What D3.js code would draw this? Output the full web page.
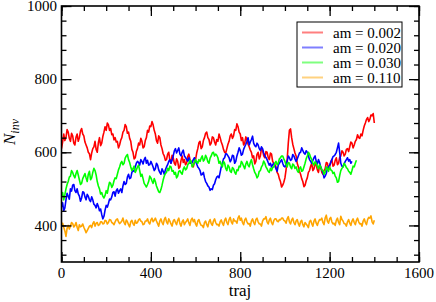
<!DOCTYPE html>
<html><head><meta charset="utf-8">
<script src="https://cdn.jsdelivr.net/npm/d3@7"></script>
<style>body{margin:0;background:#fff}svg{display:block}</style>
</head><body>
<script>
const step = 5;
const labels = ["am = 0.002","am = 0.020","am = 0.030","am = 0.110"];
const colors = ["#ff0000","#0000ff","#00ff00","#ffa500"];
const xTicks = [0,400,800,1200,1600];
const yTicks = [400,600,800,1000];

const red = [610,628,650,632,640,662,655,638,630,652,645,625,620,641,650,630,640,658,665,650,
645,628,620,612,600,596,580,598,610,615,630,608,600,626,640,618,625,643,655,670,
660,680,675,660,665,648,650,634,640,628,630,612,620,633,640,655,660,676,670,652,
655,638,630,608,600,582,585,602,610,625,620,638,630,612,615,632,640,660,655,672,
670,684,675,660,650,632,625,645,640,620,610,596,590,578,580,595,600,578,570,592,
585,570,565,582,575,556,560,578,590,572,580,566,570,588,595,580,575,562,560,574,
580,598,610,626,630,610,615,632,640,652,655,640,635,620,625,642,640,628,620,635,
630,650,640,628,620,608,600,598,610,622,630,645,650,638,645,662,660,678,670,655,
650,632,640,620,625,642,635,622,615,606,600,585,590,568,575,594,600,582,590,610,
605,590,585,602,600,586,580,598,595,575,570,566,560,545,540,528,520,505,510,518,
530,552,580,625,660,664,640,622,610,598,590,570,560,548,540,528,520,506,510,522,
530,545,550,562,570,550,555,570,565,552,545,564,560,545,540,550,555,572,570,555,
560,574,580,562,565,578,585,566,570,586,590,604,600,590,595,608,610,602,615,628,
625,612,620,630,635,648,640,638,650,645,660,672,680,690,695,684,690,702,700,706,
680];
const blue = [450,462,440,448,470,488,480,472,500,494,510,512,495,490,500,486,480,466,475,492,
490,478,470,485,480,470,465,478,470,458,455,448,460,452,440,445,430,418,425,442,
455,450,460,472,470,478,490,492,480,495,500,488,495,500,490,508,520,512,515,532,
540,528,530,545,550,548,560,570,575,572,565,580,575,568,580,586,570,578,565,566,
575,568,560,550,555,570,565,552,545,540,555,548,540,552,560,566,575,580,570,578,
590,604,610,598,605,612,595,590,600,606,590,586,580,576,585,570,570,572,580,585,
575,568,560,556,550,538,540,545,530,520,515,508,505,496,500,498,510,514,525,532,
535,530,545,560,570,582,585,596,595,590,585,574,580,592,590,570,575,590,600,612,
605,592,595,608,615,622,630,640,620,628,635,644,625,618,615,625,620,610,605,615,
610,598,590,586,580,572,565,570,560,566,570,562,555,548,565,570,575,580,570,562,
560,568,575,590,585,578,580,594,590,582,575,582,590,598,600,612,605,598,595,604,
600,590,580,575,570,578,585,590,575,568,580,572,560,552,545,530,535,542,555,560,
565,572,580,588,590,594,600,612,625,600,570,562,560,568,575,580,585,576,580,570,
575];
const green = [480,490,470,484,500,512,520,532,535,550,545,536,530,542,550,538,525,512,515,528,
535,542,530,520,540,548,525,530,545,556,550,538,520,508,500,486,490,480,475,482,
495,488,505,518,515,504,510,522,530,528,540,552,560,570,575,566,570,584,590,594,
580,572,560,550,555,562,545,552,560,565,550,534,540,528,515,510,505,512,520,535,
530,522,515,528,520,508,500,492,490,498,510,524,535,542,545,556,550,562,560,548,
550,540,545,530,535,548,550,544,540,554,560,552,555,566,570,578,575,560,565,572,
580,574,570,580,575,584,590,576,580,592,585,574,570,584,590,598,600,590,595,592,
585,570,575,566,560,575,570,556,550,565,560,548,545,558,555,546,540,552,550,562,
560,575,570,562,555,568,575,565,560,572,580,566,555,545,540,530,535,548,550,560,
565,576,570,560,555,548,545,556,550,558,560,570,575,566,570,582,585,590,590,582,
575,566,560,572,570,560,555,568,565,556,560,550,545,555,560,548,550,560,570,582,
590,600,595,586,580,570,565,574,570,562,555,566,560,552,550,540,545,560,555,548,
560,552,550,542,545,535,530,518,520,536,550,556,560,570,565,558,555,548,545,540,
550,562,560,570,578];
const orange = [400,406,395,385,370,392,400,390,398,408,405,396,400,408,395,386,402,396,398,404,
395,388,380,386,392,398,400,394,405,410,398,406,408,400,402,410,410,404,405,414,
412,404,408,416,415,408,406,402,410,416,418,410,405,408,412,420,408,402,415,410,
402,396,410,414,405,400,414,406,408,415,418,412,410,402,404,412,412,418,408,404,
415,420,410,414,420,412,405,398,412,418,408,402,416,422,410,404,418,412,404,398,
412,416,408,402,414,420,405,398,410,415,402,408,412,418,407,400,415,420,410,416,
404,398,412,416,406,400,400,394,408,412,402,396,410,416,405,400,412,418,408,402,
403,398,410,415,406,400,414,420,408,402,416,422,410,404,418,412,412,406,420,426,
414,420,408,402,415,420,410,404,405,398,412,418,408,402,416,420,410,404,404,398,
412,418,418,424,410,404,415,420,408,402,413,418,418,412,410,416,415,420,420,414,
412,406,418,424,410,404,415,420,408,402,412,416,405,398,410,414,402,396,408,404,
400,394,410,414,405,398,412,418,406,400,410,416,415,420,408,402,420,428,412,406,
418,422,410,404,406,400,414,420,408,402,425,416,412,405,404,398,410,416,406,400,
412,418,408,402,414,420,410,404,405,398,412,418,408,402,416,422,420,426,410,404,
414];
const series = [red, blue, green, orange];

const FONT = "'Liberation Serif', 'Times New Roman', Times, 'DejaVu Serif', serif";
const W = 436, H = 302;
const svg = d3.select("body").append("svg").attr("width", W).attr("height", H)
  .attr("font-family", FONT);
const x = d3.scaleLinear().domain([0,1600]).range([61.5,419]);
const y = d3.scaleLinear().domain([300,1000]).range([262,6]);

svg.append("defs").append("clipPath").attr("id","clip").append("rect")
  .attr("x",61.5).attr("y",6).attr("width",419-61.5).attr("height",256);
const line = d3.line().x((d,i)=>x(i*step)).y(d=>y(d));
const lg = svg.append("g").attr("clip-path","url(#clip)");
series.forEach((s,k)=>{
  lg.append("path").datum(s).attr("d",line).attr("fill","none")
    .attr("stroke",colors[k]).attr("stroke-width",1.6).attr("stroke-linejoin","round");
});

// axes (ticks inward, mirrored)
const xMinor = d3.range(0,1601,100);
const yMinor = d3.range(320,1001,40);
function addAxis(axisGen, scale, transform, major, minor){
  [[minor,5],[major,10]].forEach(([vals,len])=>{
    const g = svg.append("g").attr("transform",transform);
    g.call(axisGen(scale).tickValues(vals).tickSize(len).tickFormat(""));
    g.selectAll(".domain").remove();
    g.selectAll(".tick line").attr("stroke","#000").attr("stroke-width",1.3);
  });
}
addAxis(d3.axisTop, x, "translate(0,262)", xTicks, xMinor);
addAxis(d3.axisBottom, x, "translate(0,6)", xTicks, xMinor);
addAxis(d3.axisRight, y, "translate(61.5,0)", yTicks, yMinor);
addAxis(d3.axisLeft, y, "translate(419,0)", yTicks, yMinor);

svg.append("rect").attr("x",61.5).attr("y",6).attr("width",419-61.5).attr("height",256)
  .attr("fill","none").attr("stroke","#000").attr("stroke-width",1.6);

// tick labels
svg.append("g").selectAll("text").data(xTicks).join("text")
  .attr("x",d=>x(d)).attr("y",278).attr("text-anchor","middle")
  .attr("font-size",15).text(d=>d);
svg.append("g").selectAll("text").data(yTicks).join("text")
  .attr("x",57).attr("y",d=>y(d)).attr("dy","0.34em").attr("text-anchor","end")
  .attr("font-size",15).text(d=>d);

// axis titles
svg.append("text").attr("x",240).attr("y",296).attr("text-anchor","middle")
  .attr("font-size",17).text("traj");
const yt = svg.append("text").attr("transform","translate(15,132) rotate(-90)")
  .attr("text-anchor","middle").attr("font-size",17).attr("font-style","italic");
yt.append("tspan").text("N");
yt.append("tspan").attr("font-size",12).attr("dy",4).text("inv");

// legend
const leg = svg.append("g");
leg.append("rect").attr("x",297).attr("y",22).attr("width",105).attr("height",65)
  .attr("fill","#fff").attr("stroke","#000").attr("stroke-width",1);
labels.forEach((t,k)=>{
  const yy = 32.5 + k*15;
  leg.append("line").attr("x1",302).attr("x2",323).attr("y1",yy).attr("y2",yy)
    .attr("stroke",colors[k]).attr("stroke-width",2).attr("stroke-opacity",0.5);
  leg.append("text").attr("x",333).attr("y",yy).attr("dy","0.35em")
    .attr("font-size",15).text(t);
});
</script>
</body></html>
